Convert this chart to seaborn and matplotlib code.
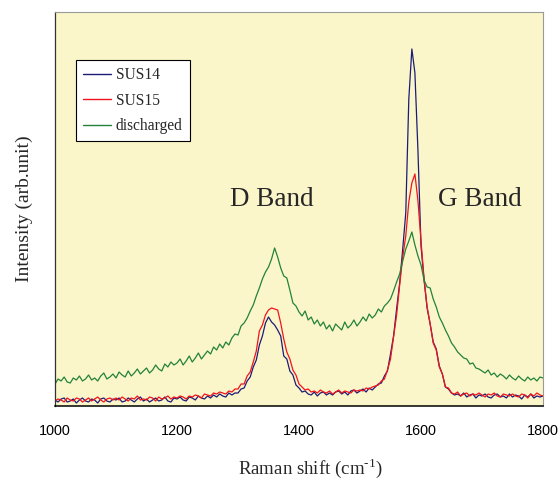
import numpy as np
import pandas as pd
import matplotlib
matplotlib.use("Agg")
import matplotlib.pyplot as plt
import seaborn as sns

# ── data (arbitrary intensity units) ────────────────────────────────────────
wavenumber = np.arange(1000, 1805, 5)

sus14 = [
    6, 4, 7, 8, 4, 5, 7, 3, 6, 8,
    5, 4, 7, 6, 3, 7, 8, 5, 4, 7,
    6, 8, 4, 5, 8, 6, 4, 7, 9, 5,
    7, 4, 6, 8, 5, 6, 9, 5, 4, 8,
    7, 9, 6, 5, 9, 8, 6, 10, 8, 7,
    10, 8, 11, 9, 12, 10, 9, 13, 11, 13,
    13, 17, 18, 25, 29, 39, 46, 61, 70, 83,
    89, 84, 81, 76, 70, 50, 47, 35, 31, 21,
    18, 14, 15, 12, 11, 14, 10, 13, 14, 11,
    13, 11, 14, 15, 12, 14, 11, 15, 16, 13,
    15, 17, 14, 18, 16, 19, 22, 23, 30, 35,
    52, 70, 97, 123, 157, 193, 307, 357, 333, 255,
    160, 126, 98, 82, 64, 57, 40, 32, 19, 17,
    13, 11, 12, 10, 13, 9, 11, 12, 8, 11,
    10, 12, 9, 8, 11, 12, 9, 10, 8, 12,
    9, 11, 10, 7, 11, 9, 12, 8, 10, 9,
    10,
]

sus15 = [
    5, 7, 6, 4, 8, 6, 5, 8, 7, 4,
    6, 8, 5, 7, 9, 6, 4, 7, 8, 6,
    8, 6, 9, 7, 5, 8, 7, 10, 6, 7,
    6, 9, 8, 5, 9, 7, 8, 10, 7, 9,
    8, 10, 9, 7, 10, 9, 11, 10, 8, 12,
    11, 10, 13, 12, 14, 13, 12, 15, 14, 17,
    17, 22, 22, 30, 34, 44, 55, 75, 81, 91,
    96, 98, 97, 96, 83, 67, 54, 47, 36, 31,
    22, 19, 16, 17, 14, 15, 13, 16, 14, 13,
    15, 12, 14, 16, 13, 15, 14, 13, 16, 15,
    16, 15, 18, 17, 19, 20, 21, 25, 27, 36,
    47, 69, 91, 121, 149, 170, 204, 223, 232, 205,
    165, 127, 99, 82, 63, 56, 39, 32, 19, 18,
    13, 12, 14, 10, 12, 13, 10, 12, 11, 13,
    11, 9, 12, 11, 13, 10, 9, 12, 11, 10,
    12, 10, 9, 12, 11, 8, 12, 10, 13, 11,
    10,
]

discharged = [
    22, 27, 25, 29, 24, 23, 28, 26, 30, 25,
    27, 31, 26, 28, 25, 30, 33, 27, 29, 32,
    28, 34, 31, 29, 35, 30, 33, 37, 32, 35,
    38, 33, 36, 41, 37, 35, 42, 39, 44, 41,
    43, 47, 41, 45, 50, 44, 48, 53, 47, 51,
    55, 52, 59, 56, 62, 58, 64, 61, 68, 72,
    71, 80, 83, 88, 95, 101, 110, 118, 127, 134,
    139, 147, 158, 149, 138, 130, 128, 116, 103, 100,
    94, 90, 95, 86, 89, 82, 86, 80, 84, 77,
    81, 75, 82, 79, 76, 84, 78, 81, 86, 80,
    84, 89, 85, 92, 88, 91, 97, 94, 100, 103,
    107, 115, 124, 132, 145, 157, 165, 174, 161, 150,
    141, 126, 119, 118, 107, 99, 89, 83, 76, 70,
    63, 59, 54, 51, 48, 47, 42, 43, 38, 37,
    35, 33, 36, 31, 33, 29, 32, 30, 27, 31,
    28, 26, 30, 27, 25, 29, 26, 28, 25, 29,
    28,
]

series_names = ["SUS14", "SUS15", "discharged"]
series_colors = ["#1c1c78", "#f0141e", "#23823a"]

df = pd.concat([
    pd.DataFrame({"shift": wavenumber, "intensity": vals, "sample": name})
    for name, vals in zip(series_names, [sus14, sus15, discharged])
], ignore_index=True)

# ── plot ────────────────────────────────────────────────────────────────────
sns.set_theme(style="white")
SERIF = ["Liberation Serif", "DejaVu Serif"]
SANS = ["Liberation Sans", "DejaVu Sans"]
plt.rcParams["font.family"] = SANS
plt.rcParams["axes.unicode_minus"] = False
plt.rcParams["mathtext.fontset"] = "custom"
plt.rcParams["mathtext.rm"] = "Liberation Serif"

fig = plt.figure(figsize=(5.59, 4.79), dpi=100)
fig.patch.set_facecolor("white")
ax = fig.add_axes([0.0984, 0.1524, 0.8730, 0.8226])
ax.set_facecolor("#faf6c9")

sns.lineplot(data=df, x="shift", y="intensity", hue="sample",
             hue_order=series_names, palette=series_colors,
             linewidth=0.9, ax=ax)

ax.set_xlim(1000, 1800)
ax.set_ylim(0, 394)
ax.set_xticks([1000, 1200, 1400, 1600, 1800])
ax.set_yticks([])
ax.tick_params(axis="x", direction="in", length=5, width=0.8,
               pad=13, labelsize=10.4, colors="black")

for side in ["top", "right"]:
    ax.spines[side].set_color("#9a9a9a")
    ax.spines[side].set_linewidth(0.8)
ax.spines["left"].set_color("#333333")
ax.spines["left"].set_linewidth(0.9)
ax.spines["bottom"].set_color("black")
ax.spines["bottom"].set_linewidth(1.1)

ax.set_xlabel("Raman shift (cm$^{\\text{-1}}$)", family=SERIF,
              fontsize=13.6)
ax.xaxis.set_label_coords(0.523, -0.127)
ax.set_ylabel("Intensity (arb.unit)", family=SERIF, fontsize=14,
              labelpad=16)

ax.text(1287, 200, "D Band", family=SERIF, fontsize=19.5, va="baseline")
ax.text(1628, 200, "G Band", family=SERIF, fontsize=19.5, va="baseline")

leg = ax.legend(loc="upper left", bbox_to_anchor=(0.043, 0.878),
                frameon=True, fancybox=False, framealpha=1,
                prop={"family": SERIF, "size": 11.2},
                handlelength=1.8, handletextpad=0.3, labelspacing=0.62,
                borderpad=0.45, borderaxespad=0)
leg.get_frame().set_edgecolor("black")
leg.get_frame().set_linewidth(0.8)
leg.get_frame().set_facecolor("white")
for line in leg.get_lines():
    line.set_linewidth(1.0)

fig.savefig("out.png", dpi=100, facecolor="white")
